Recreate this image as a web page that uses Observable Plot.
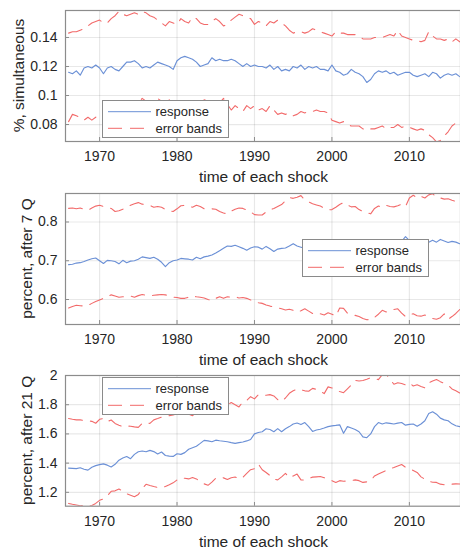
<!DOCTYPE html>
<html><head><meta charset="utf-8">
<script src="https://cdn.jsdelivr.net/npm/d3@7"></script>
<script src="https://cdn.jsdelivr.net/npm/@observablehq/plot@0.6"></script>
<style>
body{margin:0;background:#fff;font-family:"Liberation Sans",Arial,sans-serif;}
#wrap{position:relative;width:460px;height:550px;overflow:hidden;background:#fff;}
#wrap svg.plotsvg{display:block;}
.legend{position:absolute;background:#fff;border:1px solid #8a8a8a;box-sizing:border-box;}
</style></head><body><div id="wrap"></div>
<script>
// semiannual observations starting 1966.0
const startYear = 1966, stepYears = 0.5;
const xTicks = [1970, 1980, 1990, 2000, 2010];
const xLabel = "time of each shock";
const legendLabels = ["response", "error bands"];

// Panel 1: %, simultaneous
const resp1 = [
0.116,0.115,0.117,0.114,0.119,0.120,0.119,0.121,0.119,0.115,
0.119,0.120,0.118,0.117,0.120,0.123,0.123,0.124,0.122,0.119,
0.120,0.119,0.121,0.123,0.122,0.121,0.120,0.118,0.124,0.126,
0.127,0.126,0.125,0.123,0.120,0.121,0.122,0.126,0.124,0.125,
0.124,0.124,0.125,0.124,0.122,0.120,0.122,0.120,0.121,0.120,
0.120,0.119,0.121,0.118,0.120,0.117,0.118,0.117,0.120,0.119,
0.121,0.118,0.120,0.119,0.120,0.118,0.118,0.117,0.121,0.117,
0.116,0.114,0.115,0.118,0.116,0.115,0.113,0.109,0.111,0.115,
0.117,0.116,0.117,0.115,0.116,0.114,0.115,0.116,0.116,0.114,
0.113,0.114,0.115,0.113,0.116,0.115,0.112,0.114,0.115,0.114,
0.115,0.113];
const upper1 = [
0.143,0.144,0.144,0.145,0.146,0.148,0.150,0.151,0.152,0.150,
0.150,0.153,0.155,0.158,0.156,0.155,0.156,0.157,0.156,0.158,
0.157,0.155,0.154,0.152,0.150,0.148,0.151,0.150,0.149,0.153,
0.151,0.150,0.154,0.153,0.150,0.149,0.149,0.151,0.153,0.151,
0.148,0.149,0.152,0.154,0.156,0.155,0.154,0.153,0.149,0.151,
0.150,0.148,0.151,0.150,0.152,0.150,0.148,0.145,0.143,0.144,
0.144,0.143,0.144,0.146,0.145,0.144,0.143,0.142,0.141,0.144,
0.143,0.143,0.142,0.142,0.142,0.141,0.139,0.139,0.139,0.140,
0.140,0.140,0.141,0.142,0.141,0.145,0.141,0.140,0.139,0.138,
0.138,0.137,0.138,0.144,0.141,0.139,0.139,0.138,0.139,0.137,
0.139,0.137];
const lower1 = [
0.082,0.087,0.086,0.085,0.083,0.085,0.083,0.085,0.087,0.088,
0.089,0.090,0.091,0.090,0.092,0.093,0.092,0.094,0.095,0.098,
0.096,0.094,0.095,0.098,0.096,0.095,0.097,0.094,0.095,0.093,
0.094,0.092,0.094,0.093,0.095,0.097,0.096,0.093,0.094,0.095,
0.098,0.094,0.090,0.093,0.091,0.089,0.093,0.091,0.093,0.090,
0.091,0.089,0.093,0.090,0.087,0.088,0.087,0.088,0.086,0.087,
0.089,0.088,0.089,0.089,0.090,0.089,0.089,0.088,0.083,0.082,
0.081,0.082,0.080,0.079,0.079,0.079,0.077,0.076,0.077,0.077,
0.078,0.079,0.077,0.078,0.078,0.080,0.078,0.079,0.078,0.077,
0.076,0.077,0.076,0.073,0.071,0.068,0.069,0.072,0.075,0.079,
0.081,0.083];

// Panel 2: percent, after 7 Q
const resp2 = [
0.690,0.691,0.694,0.695,0.698,0.702,0.705,0.707,0.700,0.693,
0.701,0.700,0.698,0.692,0.701,0.695,0.699,0.700,0.704,0.710,
0.708,0.706,0.709,0.704,0.696,0.685,0.695,0.700,0.702,0.706,
0.705,0.704,0.702,0.709,0.705,0.710,0.712,0.715,0.720,0.726,
0.732,0.738,0.737,0.740,0.736,0.732,0.727,0.733,0.736,0.735,
0.730,0.737,0.731,0.724,0.730,0.732,0.733,0.738,0.744,0.738,
0.735,0.732,0.734,0.737,0.736,0.739,0.741,0.738,0.740,0.742,
0.741,0.743,0.740,0.744,0.746,0.743,0.745,0.747,0.746,0.748,
0.747,0.749,0.748,0.750,0.749,0.751,0.750,0.762,0.752,0.750,
0.752,0.749,0.751,0.748,0.753,0.748,0.755,0.751,0.747,0.750,
0.748,0.744];
const upper2 = [
0.835,0.836,0.834,0.836,0.833,0.830,0.836,0.841,0.843,0.840,
0.837,0.835,0.827,0.829,0.833,0.839,0.843,0.847,0.850,0.846,
0.845,0.843,0.838,0.840,0.838,0.832,0.829,0.827,0.834,0.842,
0.843,0.841,0.838,0.843,0.840,0.834,0.836,0.834,0.833,0.827,
0.823,0.821,0.828,0.833,0.836,0.835,0.831,0.826,0.819,0.818,
0.818,0.826,0.831,0.835,0.840,0.845,0.855,0.863,0.861,0.864,
0.868,0.857,0.852,0.847,0.844,0.841,0.836,0.831,0.832,0.838,
0.845,0.850,0.844,0.839,0.840,0.832,0.827,0.824,0.821,0.835,
0.841,0.838,0.843,0.840,0.839,0.842,0.846,0.840,0.862,0.869,
0.862,0.866,0.862,0.870,0.873,0.864,0.862,0.859,0.860,0.856,
0.853,0.855];
const lower2 = [
0.578,0.582,0.585,0.584,0.583,0.585,0.590,0.595,0.599,0.603,
0.607,0.612,0.609,0.606,0.607,0.607,0.609,0.606,0.610,0.613,
0.611,0.609,0.611,0.612,0.613,0.612,0.609,0.606,0.605,0.603,
0.603,0.606,0.609,0.607,0.606,0.604,0.600,0.597,0.603,0.607,
0.603,0.607,0.606,0.607,0.604,0.605,0.603,0.599,0.595,0.592,
0.590,0.586,0.583,0.581,0.579,0.576,0.573,0.575,0.572,0.567,
0.571,0.576,0.570,0.564,0.566,0.563,0.560,0.566,0.562,0.557,
0.578,0.577,0.565,0.561,0.559,0.556,0.551,0.548,0.547,0.554,
0.562,0.572,0.568,0.570,0.574,0.576,0.565,0.556,0.561,0.563,
0.558,0.557,0.560,0.555,0.551,0.549,0.553,0.563,0.549,0.556,
0.564,0.574];

// Panel 3: percent, after 21 Q
const resp3 = [
1.366,1.364,1.362,1.368,1.358,1.352,1.372,1.383,1.390,1.395,
1.386,1.374,1.392,1.420,1.435,1.445,1.430,1.460,1.478,1.483,
1.478,1.487,1.479,1.463,1.476,1.452,1.448,1.446,1.464,1.460,
1.472,1.495,1.505,1.515,1.535,1.556,1.552,1.546,1.557,1.553,
1.550,1.546,1.540,1.535,1.540,1.545,1.552,1.562,1.600,1.610,
1.615,1.635,1.630,1.615,1.636,1.615,1.635,1.650,1.668,1.675,
1.664,1.678,1.650,1.617,1.627,1.632,1.640,1.650,1.655,1.658,
1.662,1.604,1.650,1.640,1.630,1.615,1.580,1.574,1.600,1.650,
1.678,1.668,1.676,1.672,1.668,1.674,1.678,1.660,1.665,1.668,
1.652,1.668,1.690,1.740,1.752,1.735,1.708,1.696,1.690,1.669,
1.656,1.650];
const upper3 = [
1.705,1.700,1.696,1.696,1.692,1.690,1.686,1.673,1.700,1.706,
1.685,1.695,1.672,1.660,1.650,1.655,1.652,1.648,1.645,1.672,
1.678,1.672,1.696,1.705,1.715,1.722,1.725,1.730,1.738,1.745,
1.722,1.735,1.725,1.745,1.752,1.760,1.770,1.775,1.780,1.790,
1.785,1.800,1.815,1.800,1.785,1.820,1.830,1.855,1.840,1.868,
1.862,1.865,1.869,1.860,1.835,1.822,1.846,1.878,1.895,1.908,
1.903,1.895,1.892,1.912,1.905,1.894,1.876,1.922,1.915,1.900,
1.890,1.882,1.908,1.935,1.966,1.962,1.966,1.975,1.985,1.978,
1.972,2.005,2.010,1.975,1.940,1.950,1.945,1.936,1.950,1.928,
1.936,1.925,1.915,1.950,1.962,1.972,1.958,1.945,1.935,1.908,
1.895,1.880];
const lower3 = [
1.124,1.118,1.113,1.108,1.112,1.106,1.110,1.124,1.145,1.155,
1.177,1.207,1.210,1.222,1.210,1.190,1.180,1.170,1.185,1.225,
1.255,1.247,1.240,1.234,1.230,1.240,1.252,1.265,1.285,1.298,
1.296,1.292,1.302,1.292,1.272,1.258,1.248,1.270,1.296,1.303,
1.299,1.288,1.300,1.305,1.292,1.303,1.330,1.355,1.362,1.394,
1.355,1.336,1.315,1.290,1.285,1.306,1.330,1.300,1.312,1.325,
1.285,1.284,1.295,1.304,1.306,1.308,1.300,1.288,1.280,1.268,
1.280,1.276,1.278,1.281,1.285,1.280,1.268,1.272,1.280,1.312,
1.325,1.338,1.350,1.362,1.370,1.380,1.390,1.372,1.360,1.350,
1.336,1.306,1.290,1.275,1.269,1.268,1.256,1.252,1.258,1.256,
1.258,1.257];

const yLabels = ["%, simultaneous", "percent, after 7 Q", "percent, after 21 Q"];
const yTicks1 = [0.08, 0.1, 0.12, 0.14];
const yTicks2 = [0.6, 0.7, 0.8];
const yTicks3 = [1.2, 1.4, 1.6, 1.8, 2];

const blue = "#6b90d6", red = "#f26a6a", axisGray = "#8c8c8c", textCol = "#262626";
const FONT = '"Liberation Sans", Arial, sans-serif';

const panels = [
  {resp: resp1, up: upper1, lo: lower1, ylabel: yLabels[0], yDomain: [0.0683, 0.1586], yTicks: yTicks1,
   top: 0, h: 184, mt: 10, mb: 43, ylx: 18.8, legend: {left: 101.7, top: 100}},
  {resp: resp2, up: upper2, lo: lower2, ylabel: yLabels[1], yDomain: [0.5355, 0.8735], yTicks: yTicks2,
   top: 184, h: 183, mt: 9, mb: 43, ylx: 27, legend: {left: 301.7, top: 239.3}},
  {resp: resp3, up: upper3, lo: lower3, ylabel: yLabels[2], yDomain: [1.105, 2.0], yTicks: yTicks3,
   top: 367, h: 183, mt: 8, mb: 44.3, ylx: 27, legend: {left: 101.7, top: 377.3}}
];

const wrap = document.getElementById("wrap");
const W = 460, ML = 65, MR = 0;
const xDomain = [1965.6, 2016.6];
const xOf = (d, i) => startYear + i * stepYears;

for (const p of panels) {
  const holder = document.createElement("div");
  holder.style.position = "absolute";
  holder.style.left = "0px";
  holder.style.top = p.top + "px";
  wrap.appendChild(holder);

  const chart = Plot.plot({
    width: W, height: p.h,
    marginLeft: ML, marginRight: MR, marginTop: p.mt, marginBottom: p.mb,
    style: {fontFamily: FONT, fontSize: "14px", color: textCol, background: "transparent", overflow: "visible"},
    x: {domain: xDomain, label: null},
    y: {domain: p.yDomain, label: null},
    marks: [
      Plot.gridX(xTicks, {stroke: "#000", strokeOpacity: 0.09, strokeWidth: 1.2}),
      Plot.gridY(p.yTicks, {stroke: "#000", strokeOpacity: 0.09, strokeWidth: 1.2}),
      Plot.line(p.up, {x: xOf, y: d => d, stroke: red, strokeWidth: 1.1, strokeDasharray: "14,8", clip: true}),
      Plot.line(p.lo, {x: xOf, y: d => d, stroke: red, strokeWidth: 1.1, strokeDasharray: "14,8", clip: true}),
      Plot.line(p.resp, {x: xOf, y: d => d, stroke: blue, strokeWidth: 1.15, clip: true}),
      Plot.frame({stroke: axisGray, strokeWidth: 1.2}),
      Plot.axisX(xTicks, {tickSize: 0, tickPadding: 10, tickFormat: d => String(d), fill: textCol, fontSize: 14, label: null}),
      Plot.axisY(p.yTicks, {tickSize: 0, tickPadding: 8, tickFormat: d => String(d), fill: textCol, fontSize: 14, label: null}),
      Plot.tickX(xTicks, {x: d => d, stroke: axisGray, strokeWidth: 1, insetTop: 131 - 4}),
      Plot.tickY(p.yTicks, {y: d => d, stroke: axisGray, strokeWidth: 1, insetRight: 395 - 4})
    ]
  });
  chart.classList.add("plotsvg");
  holder.appendChild(chart);

  const svg = d3.select(chart);
  const plotH = p.h - p.mt - p.mb;
  // x axis title
  svg.append("text")
    .attr("x", (ML + W - MR) / 2 + 1)
    .attr("y", p.mt + plotH + 36)
    .attr("dy", "0.35em")
    .attr("text-anchor", "middle")
    .attr("font-family", FONT).attr("font-size", 15.5).attr("fill", textCol)
    .text(xLabel);
  // y axis title
  svg.append("text")
    .attr("transform", `translate(${p.ylx},${p.mt + plotH / 2}) rotate(-90)`)
    .attr("dy", "0.35em")
    .attr("text-anchor", "middle")
    .attr("font-family", FONT).attr("font-size", 15.5).attr("fill", textCol)
    .text(p.ylabel);

  // legend box
  const lg = document.createElement("div");
  lg.className = "legend";
  lg.style.left = p.legend.left + "px";
  lg.style.top = p.legend.top + "px";
  lg.style.width = "127.5px";
  lg.style.height = "38px";
  wrap.appendChild(lg);
  const ls = d3.select(lg).append("svg").attr("width", 126).attr("height", 36).style("display", "block");
  const rows = [{label: legendLabels[0], stroke: blue, dash: null, y: 10.7},
                {label: legendLabels[1], stroke: red, dash: "14,8", y: 27.3}];
  for (const r of rows) {
    ls.append("line").attr("x1", 5).attr("x2", 48).attr("y1", r.y).attr("y2", r.y)
      .attr("stroke", r.stroke).attr("stroke-width", 1).attr("stroke-dasharray", r.dash);
    ls.append("text").attr("x", 52.5).attr("y", r.y).attr("dy", "0.35em")
      .attr("font-family", FONT).attr("font-size", 13).attr("fill", textCol).text(r.label);
  }
}
</script>
</body></html>
